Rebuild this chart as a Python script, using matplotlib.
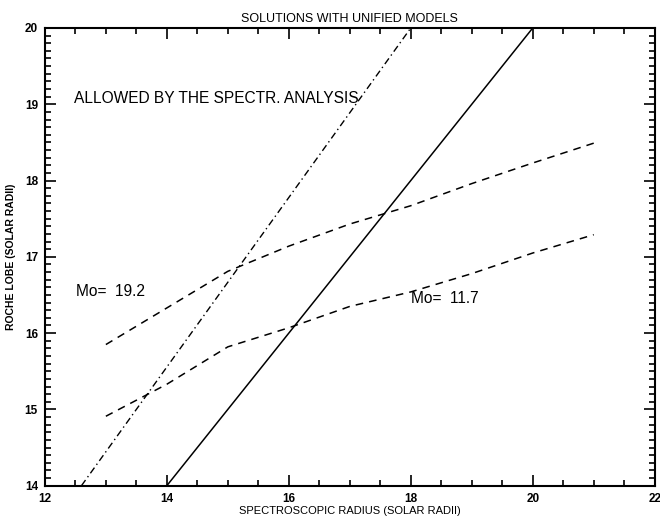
import matplotlib.pyplot as plt
from matplotlib.ticker import MultipleLocator

plt.rcParams['font.family'] = ['Liberation Sans', 'DejaVu Sans']

# spectroscopic radius vs roche lobe (solar radii)
solid_x = [14.0, 20.0]
solid_y = [14.0, 20.0]
dashdot_x = [12.6, 18.0]
dashdot_y = [14.0, 20.0]

r_spec = [13, 14, 15, 16, 17, 18, 19, 20, 21]
lobe_192 = [15.85, 16.33, 16.81, 17.14, 17.43, 17.67, 17.96, 18.23, 18.49]
lobe_117 = [14.91, 15.33, 15.82, 16.07, 16.35, 16.54, 16.78, 17.05, 17.29]

fig = plt.figure(figsize=(6.6, 5.18), dpi=100)
ax = fig.add_axes([0.068, 0.0624, 0.924, 0.8836])

ax.plot(solid_x, solid_y, '-', color='black', lw=1.1)
ax.plot(dashdot_x, dashdot_y, color='black', lw=1.0, dashes=[5, 2.5, 1, 2.5])
ax.plot(r_spec, lobe_192, color='black', lw=1.1, dashes=[5, 4])
ax.plot(r_spec, lobe_117, color='black', lw=1.1, dashes=[5, 4])

ax.text(12.48, 19.07, 'ALLOWED BY THE SPECTR. ANALYSIS', fontsize=11.2, va='center', ha='left')
ax.text(12.51, 16.54, 'Mo=  19.2', fontsize=11.2, va='center', ha='left')
ax.text(18.01, 16.46, 'Mo=  11.7', fontsize=11.2, va='center', ha='left')

ax.set_xlim(12, 22)
ax.set_ylim(14, 20)
ax.xaxis.set_major_locator(MultipleLocator(2))
ax.xaxis.set_minor_locator(MultipleLocator(0.5))
ax.yaxis.set_major_locator(MultipleLocator(1))
ax.yaxis.set_minor_locator(MultipleLocator(0.1))
ax.tick_params(which='both', direction='in', top=True, right=True, width=1.2)
ax.tick_params(which='major', length=8, pad=5)
ax.tick_params(which='minor', length=4)
for lab in ax.get_xticklabels() + ax.get_yticklabels():
    lab.set_fontweight('bold')
    lab.set_fontsize(8.5)
for s in ax.spines.values():
    s.set_linewidth(1.5)

ax.set_title('SOLUTIONS WITH UNIFIED MODELS', fontsize=9, pad=4)
ax.set_xlabel('SPECTROSCOPIC RADIUS (SOLAR RADII)', fontsize=8, labelpad=1)
ax.set_ylabel('ROCHE LOBE (SOLAR RADII)', fontsize=7.5, fontweight='bold', labelpad=6)

fig.savefig('out.png', dpi=100)
